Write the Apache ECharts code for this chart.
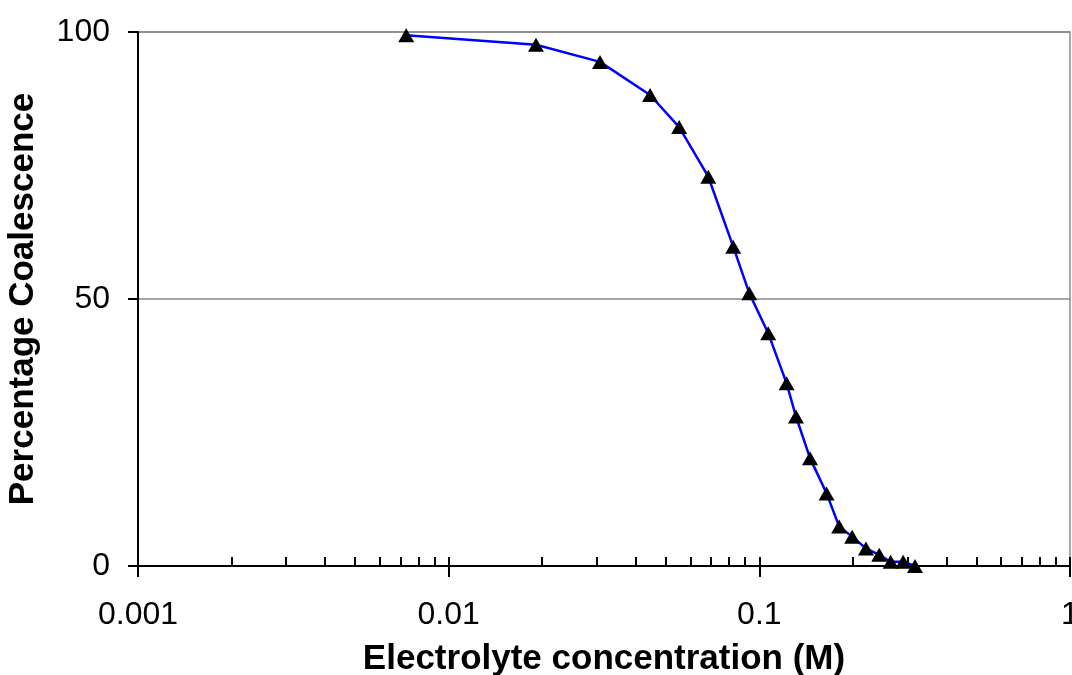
<!DOCTYPE html>
<html>
<head>
<meta charset="utf-8">
<script src="https://cdn.jsdelivr.net/npm/echarts@6/dist/echarts.min.js"></script>
<style>
  html, body { margin: 0; padding: 0; background: #fff; }
  #chart { width: 1072px; height: 675px; }
</style>
</head>
<body>
<div id="chart"></div>
<script>
// Electrolyte concentration (M) and the matching percentage of coalescence
const concentration = [0.0073, 0.0191, 0.0307, 0.0445, 0.0552, 0.0685, 0.0824, 0.0928, 0.1068, 0.1224,
                       0.1312, 0.1456, 0.1646, 0.1807, 0.199, 0.2204, 0.2432, 0.2647, 0.2904, 0.317];
const coalescence = [99.4, 97.6, 94.4, 88.2, 82.2, 72.9, 59.8, 51.1, 43.6, 34.2,
                     28.0, 20.2, 13.6, 7.4, 5.5, 3.3, 2.1, 0.8, 0.8, 0.0];

// Decade ticks and the 2..9 sub-ticks of the log axis
const majorTicks = [0.001, 0.01, 0.1, 1];
const minorTicks = [];
majorTicks.slice(0, -1).forEach(d => {
  for (let k = 1; k <= 9; k++) minorTicks.push(+(d * k).toPrecision(3));
});
minorTicks.push(1);

const yTicks = [0, 50, 100];

const font = 'Liberation Sans, Arial, sans-serif';
const points = concentration.map((c, i) => [c, coalescence[i]]);

const chart = echarts.init(document.getElementById('chart'), null, { renderer: 'canvas' });
chart.setOption({
  animation: false,
  backgroundColor: '#fff',
  grid: {
    left: 138, right: 2, top: 32, bottom: 109,
    containLabel: false, outerBoundsMode: 'none',
    show: true, borderColor: '#8a8a8a', borderWidth: 1.5, backgroundColor: 'transparent'
  },
  xAxis: [
    {
      type: 'log', logBase: 10, min: majorTicks[0], max: majorTicks[majorTicks.length - 1],
      position: 'bottom',
      name: 'Electrolyte concentration (M)',
      nameLocation: 'middle', nameGap: 76,
      nameTextStyle: { fontFamily: font, fontSize: 35, fontWeight: 'bold', color: '#000' },
      axisLine: { onZero: false, lineStyle: { color: '#000', width: 2 } },
      axisTick: { show: true, inside: false, length: 11, lineStyle: { color: '#000', width: 2 } },
      axisLabel: { fontFamily: font, fontSize: 32, color: '#000', margin: 33 },
      splitLine: { show: false },
      minorTick: { show: false }
    },
    {
      type: 'log', logBase: 10, min: majorTicks[0], max: majorTicks[majorTicks.length - 1],
      position: 'bottom',
      axisLine: { show: false, onZero: false },
      axisTick: { show: true, inside: true, length: 9, customValues: minorTicks,
                  lineStyle: { color: '#000', width: 2 } },
      axisLabel: { show: false },
      splitLine: { show: false }
    }
  ],
  yAxis: {
    type: 'value', min: yTicks[0], max: yTicks[yTicks.length - 1], interval: 50,
    name: 'Percentage Coalescence',
    nameLocation: 'middle', nameGap: 97, nameRotate: 90,
    nameTextStyle: { fontFamily: font, fontSize: 35, fontWeight: 'bold', color: '#000' },
    axisLine: { show: true, lineStyle: { color: '#000', width: 2 } },
    axisTick: { show: true, inside: false, length: 10, lineStyle: { color: '#000', width: 2 } },
    axisLabel: { fontFamily: font, fontSize: 32, color: '#000', margin: 28 },
    splitLine: { show: true, lineStyle: { color: '#8a8a8a', width: 1.5 } }
  },
  series: [{
    type: 'line',
    xAxisIndex: 0,
    data: points,
    lineStyle: { color: '#0000ff', width: 2.5 },
    itemStyle: { color: '#000' },
    symbol: 'triangle',
    symbolSize: [16, 14],
    showAllSymbol: true,
    z: 5
  }]
});
</script>
</body>
</html>
